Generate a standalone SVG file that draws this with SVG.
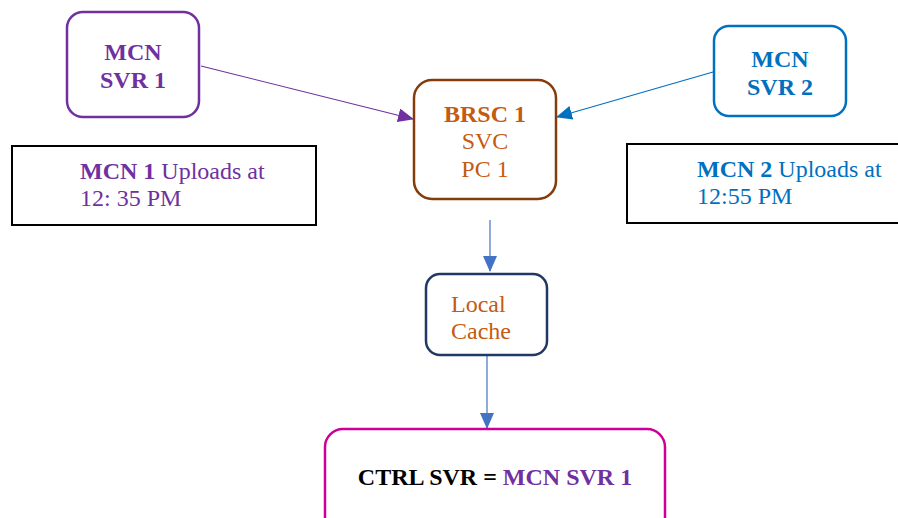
<svg xmlns="http://www.w3.org/2000/svg" width="898" height="518" viewBox="0 0 898 518" font-family="'Liberation Serif', 'Times New Roman', serif" font-size="24">
<style>
text{font-family:'Liberation Serif','Times New Roman',serif;font-size:24px}
.b{font-weight:bold}
.box{fill:#fff;stroke-width:2.5}
.note{fill:#fff;stroke:#000;stroke-width:2}
.pur{fill:#7030A0}
.org{fill:#C55A11}
.blu{fill:#0070C0}
</style>
<defs>
<marker id="ab" viewBox="0 0 16 14" refX="15" refY="7" markerWidth="16" markerHeight="14" orient="auto" markerUnits="userSpaceOnUse"><path d="M0,0L16,7L0,14z" fill="#0070C0"/></marker>
<marker id="apu" viewBox="0 0 16 14" refX="15" refY="7" markerWidth="16" markerHeight="14" orient="auto" markerUnits="userSpaceOnUse"><path d="M0,0L16,7L0,14z" fill="#7030A0"/></marker>
<marker id="al" viewBox="0 0 16 14" refX="15" refY="7" markerWidth="16" markerHeight="14" orient="auto" markerUnits="userSpaceOnUse"><path d="M0,0L16,7L0,14z" fill="#4472C4"/></marker>
</defs>
<g id="connectors" fill="none" stroke-width="1.2">
<line x1="201" y1="66" x2="413" y2="119" stroke="#7030A0" marker-end="url(#apu)"/>
<line x1="713" y1="72" x2="557" y2="117" stroke="#0070C0" marker-end="url(#ab)"/>
<line x1="490" y1="220" x2="490" y2="271" stroke="#4472C4" marker-end="url(#al)"/>
<line x1="487" y1="356" x2="487" y2="428" stroke="#4472C4" marker-end="url(#al)"/>
</g>
<g id="mcn-svr-1">
<rect class="box" x="67" y="12" width="132" height="105" rx="16" stroke="#7030A0"/>
<text class="b pur" x="133" y="60" text-anchor="middle">MCN</text>
<text class="b pur" x="133" y="88" text-anchor="middle">SVR 1</text>
</g>
<g id="brsc-1">
<rect class="box" x="414" y="80" width="142" height="119" rx="18" stroke="#843C0C"/>
<text class="b org" x="485" y="122" text-anchor="middle">BRSC 1</text>
<text class="org" x="485" y="149" text-anchor="middle">SVC</text>
<text class="org" x="485" y="177" text-anchor="middle">PC 1</text>
</g>
<g id="mcn-svr-2">
<rect class="box" x="714" y="26" width="132" height="90" rx="15" stroke="#0070C0"/>
<text class="b blu" x="780" y="67" text-anchor="middle">MCN</text>
<text class="b blu" x="780" y="95" text-anchor="middle">SVR 2</text>
</g>
<g id="note-1">
<rect class="note" x="12" y="146" width="304" height="79"/>
<text class="pur" x="80" y="179"><tspan class="b">MCN 1</tspan> Uploads at</text>
<text class="pur" x="80" y="206">12: 35 PM</text>
</g>
<g id="note-2">
<rect class="note" x="627" y="144" width="280" height="79"/>
<text class="blu" x="697" y="177"><tspan class="b">MCN 2</tspan> Uploads at</text>
<text class="blu" x="697" y="204">12:55 PM</text>
</g>
<g id="local-cache">
<rect class="box" x="426" y="274" width="121" height="81" rx="14" stroke="#1F3864"/>
<text class="org" x="451" y="312">Local</text>
<text class="org" x="451" y="339">Cache</text>
</g>
<g id="ctrl-svr">
<rect class="box" x="325" y="429" width="340" height="110" rx="18" stroke="#CC0099"/>
<text class="b" x="495" y="485" text-anchor="middle"><tspan fill="#000">CTRL SVR = </tspan><tspan fill="#7030A0">MCN SVR 1</tspan></text>
</g>
</svg>
